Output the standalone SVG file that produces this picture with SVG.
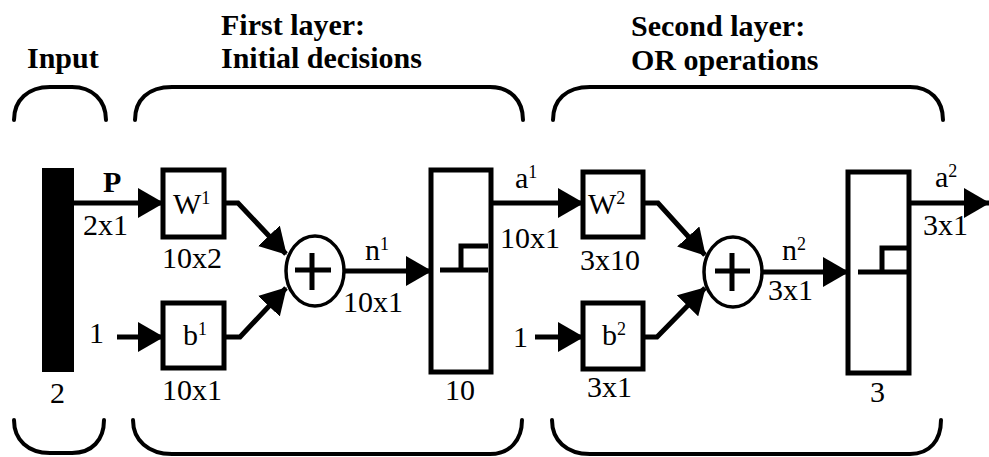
<svg xmlns="http://www.w3.org/2000/svg" width="989" height="457" viewBox="0 0 989 457" font-family="Liberation Serif, serif" font-size="30" fill="#000">
<style>
.bx{fill:#fff;stroke:#000;stroke-width:5}
.cr{fill:#fff;stroke:#000;stroke-width:3.5}
.ln{fill:none;stroke:#000;stroke-width:5}
.br{fill:none;stroke:#000;stroke-width:4;stroke-linecap:round}
.st{fill:none;stroke:#000;stroke-width:5}
.th{font-weight:bold}
.sp{font-size:18px}
</style>
<defs>
<marker id="ah" markerUnits="userSpaceOnUse" markerWidth="26" markerHeight="30" refX="25" refY="15" orient="auto">
<path d="M0,0 L26,15 L0,30 Z" fill="#000"/>
</marker>
</defs>
<rect width="989" height="457" fill="#fff"/>

<g id="titles">
<text class="th" x="27" y="68">Input</text>
<text class="th" x="221" y="35">First layer:</text>
<text class="th" x="221" y="68">Initial decisions</text>
<text class="th" x="631" y="36">Second layer:</text>
<text class="th" x="631" y="70">OR operations</text>
</g>

<g id="braces">
<path class="br" d="M14,120 C14,100 28,87 50,87 L72,87 C92,87 106,100 106,120"/>
<path class="br" d="M135,120 C135,100 148,87 172,87 L490,87 C510,87 523,100 523,120"/>
<path class="br" d="M553,120 C553,100 566,87 590,87 L910,87 C930,87 943,100 943,120"/>
<path class="br" d="M14,420 C14,440 28,453 50,453 L72,453 C92,453 104,440 104,420"/>
<path class="br" d="M133,420 C133,440 148,454 172,454 L490,454 C510,454 522,440 522,420"/>
<path class="br" d="M552,420 C552,440 566,454 590,454 L910,454 C930,454 941,440 941,420"/>
</g>

<g id="connectors">
<line class="ln" x1="74" y1="203" x2="163" y2="203" marker-end="url(#ah)"/>
<line class="ln" x1="117" y1="337" x2="163" y2="337" marker-end="url(#ah)"/>
<polyline class="ln" points="224,203 238,203 286,254" marker-end="url(#ah)"/>
<polyline class="ln" points="224,337 240,337 286,288" marker-end="url(#ah)"/>
<line class="ln" x1="345" y1="271" x2="431" y2="271" marker-end="url(#ah)"/>
<line class="ln" x1="491" y1="203" x2="583" y2="203" marker-end="url(#ah)"/>
<line class="ln" x1="535" y1="337" x2="583" y2="337" marker-end="url(#ah)"/>
<polyline class="ln" points="643,203 658,203 705,255" marker-end="url(#ah)"/>
<polyline class="ln" points="643,337 657,337 705,288" marker-end="url(#ah)"/>
<line class="ln" x1="763" y1="272" x2="848" y2="272" marker-end="url(#ah)"/>
<line class="ln" x1="910" y1="203" x2="989" y2="203" marker-end="url(#ah)"/>
</g>

<g id="input">
<rect x="42" y="168" width="32" height="204" fill="#000"/>
<text x="50" y="403">2</text>
<text class="th" x="103" y="192">P</text>
<text x="83" y="235">2x1</text>
<text x="89" y="343">1</text>
</g>

<g id="W1">
<rect class="bx" x="163" y="170" width="61" height="67"/>
<text x="173" y="214">W<tspan class="sp" dy="-10">1</tspan></text>
<text x="162" y="268">10x2</text>
</g>

<g id="b1">
<rect class="bx" x="163" y="303" width="61" height="65"/>
<text x="183" y="345">b<tspan class="sp" dy="-10">1</tspan></text>
<text x="162" y="400">10x1</text>
</g>

<g id="sum1">
<ellipse class="cr" cx="315" cy="271" rx="29" ry="35"/>
<path class="st" d="M295,270 L331,270 M312,253 L312,290"/>
<text x="365" y="260">n<tspan class="sp" dy="-10">1</tspan></text>
<text x="343" y="312">10x1</text>
</g>

<g id="hardlim1">
<rect class="bx" x="431" y="170" width="60" height="202"/>
<path class="st" d="M440,270 L488,270 M440,270 L461,270 L461,246 L488,246"/>
<text x="445" y="400">10</text>
<text x="515" y="188">a<tspan class="sp" dy="-10">1</tspan></text>
<text x="500" y="248">10x1</text>
</g>

<g id="W2">
<rect class="bx" x="583" y="172" width="60" height="65"/>
<text x="588" y="214">W<tspan class="sp" dy="-10">2</tspan></text>
<text x="580" y="270">3x10</text>
</g>

<g id="b2">
<rect class="bx" x="583" y="303" width="60" height="66"/>
<text x="602" y="345">b<tspan class="sp" dy="-10">2</tspan></text>
<text x="513" y="347">1</text>
<text x="587" y="397">3x1</text>
</g>

<g id="sum2">
<ellipse class="cr" cx="733" cy="272" rx="29" ry="35"/>
<path class="st" d="M715,271 L750,271 M732,253 L732,291"/>
<text x="782" y="260">n<tspan class="sp" dy="-10">2</tspan></text>
<text x="768" y="300">3x1</text>
</g>

<g id="hardlim2">
<rect class="bx" x="848" y="172" width="61" height="201"/>
<path class="st" d="M858,272 L907,272 M858,272 L882,272 L882,248 L907,248"/>
<text x="870" y="402">3</text>
<text x="935" y="187">a<tspan class="sp" dy="-10">2</tspan></text>
<text x="923" y="235">3x1</text>
</g>
</svg>
